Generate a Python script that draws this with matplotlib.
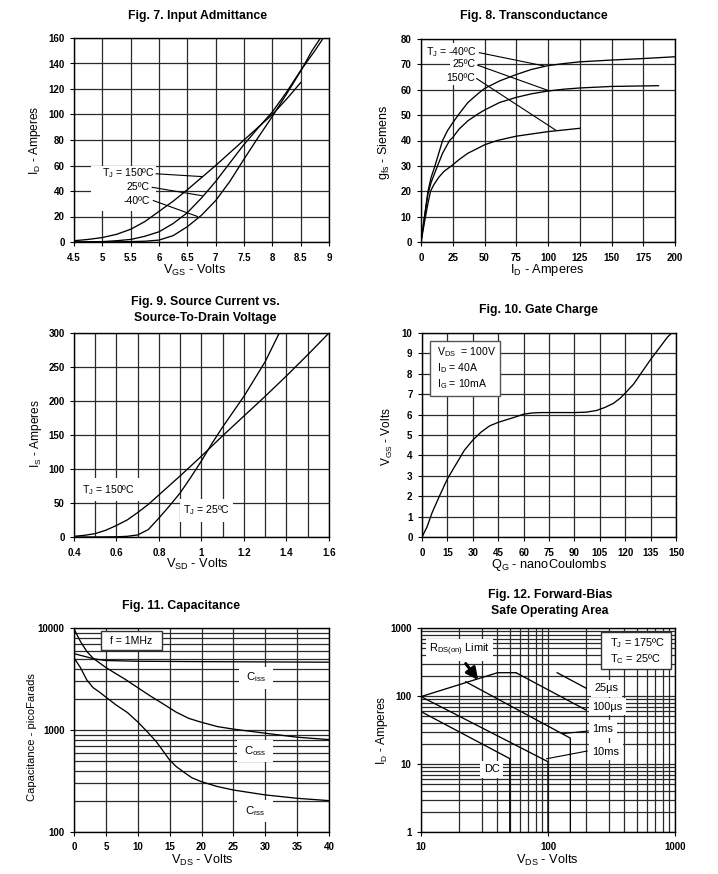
import matplotlib
matplotlib.use('Agg')
import matplotlib.pyplot as plt
from matplotlib.ticker import FixedLocator, FixedFormatter, NullFormatter
from matplotlib.patches import Rectangle

plt.rcParams['font.family'] = ['Liberation Sans', 'DejaVu Sans']
plt.rcParams['mathtext.default'] = 'regular'

# ---------------- DATA ----------------
# Fig 7 Input admittance
vgs_150 = [4.5, 4.75, 5, 5.25, 5.5, 5.75, 6, 6.25, 6.5, 6.75, 7, 7.25, 7.5, 7.75, 8, 8.25, 8.5]
id_150 = [1, 2, 3.5, 6, 10, 16, 24, 32, 41, 50.5, 60, 70, 80, 90, 100, 112, 125]
vgs_25 = [4.5, 5, 5.25, 5.5, 5.75, 6, 6.25, 6.5, 6.75, 7, 7.25, 7.5, 7.75, 8, 8.25, 8.5, 8.75, 8.9]
id_25 = [0, 0.3, 1, 2, 4.5, 8, 14.5, 23, 34.5, 47.5, 62, 76.5, 89.5, 102, 117.5, 134.5, 150, 160]
vgs_m40 = [4.5, 5, 5.5, 5.75, 6, 6.25, 6.5, 6.75, 7, 7.25, 7.5, 7.75, 8, 8.25, 8.5, 8.7, 8.85]
id_m40 = [0, 0, 0.3, 0.6, 1.5, 5, 12, 21, 32.5, 47.5, 65, 82, 98.5, 116, 134, 150, 160]

# Fig 8 Transconductance
idg_m40 = [0, 3, 5.5, 8, 11, 14, 17, 21, 25, 30, 37, 45, 50, 62, 75, 87, 100, 112, 125, 150, 175, 200]
gfs_m40 = [0, 11, 20, 25.5, 30, 35, 40, 44, 47, 50.5, 55, 58.5, 60.5, 63.5, 66, 68, 69.5, 70.3, 71, 71.7, 72.3, 73]
idg_25 = [0, 3, 5.5, 8, 13, 17, 22.5, 25, 30, 37, 45, 50, 62, 75, 87, 100, 112, 125, 150, 187]
gfs_25 = [0, 10.5, 19, 23.5, 30, 35, 40, 41.2, 44.5, 47.8, 50.5, 52, 55, 57, 58.4, 59.5, 60.2, 60.7, 61.3, 61.6]
idg_150 = [0, 3, 5, 7.5, 10, 14, 18, 24, 30, 37, 45, 50, 60, 75, 100, 125]
gfs_150 = [0, 8.5, 14, 20, 22.5, 25.5, 27.8, 30, 32.5, 35, 37, 38.3, 40, 41.7, 43.5, 44.8]

# Fig 9 Source current vs source-drain voltage
vsd_150 = [0.4, 0.45, 0.5, 0.55, 0.6, 0.65, 0.7, 0.75, 0.8, 0.9, 1.0, 1.1, 1.2, 1.3, 1.4, 1.5, 1.6]
is_150 = [1, 2.5, 5, 10, 17, 25, 36, 48, 62, 90, 119, 149, 178, 207, 237, 268, 300]
vsd_25 = [0.4, 0.5, 0.6, 0.65, 0.7, 0.75, 0.8, 0.85, 0.9, 0.95, 1.0, 1.05, 1.1, 1.2, 1.3, 1.366]
is_25 = [0, 0, 0.3, 1, 3, 11, 28, 46, 65, 88, 112, 138, 162, 207, 258, 300]

# Fig 10 Gate charge
qg = [0, 3, 6, 10, 15, 20, 25, 30, 35, 40, 45, 50, 55, 60, 65, 70, 80, 90, 97, 103, 108, 113, 117, 120, 125, 130, 135, 140, 145, 147.5]
vgs_q = [0, 0.5, 1.2, 1.95, 2.85, 3.55, 4.25, 4.75, 5.15, 5.45, 5.62, 5.75, 5.88, 6.02, 6.08, 6.1, 6.1, 6.1, 6.12, 6.2, 6.35, 6.55, 6.8, 7.05, 7.5, 8.1, 8.7, 9.25, 9.8, 10]

# Fig 11 Capacitance
vds_iss = [0, 1, 2, 3, 5, 10, 20, 30, 40]
c_iss = [5600, 5400, 5200, 5000, 4800, 4720, 4680, 4650, 4620]
vds_oss = [0, 1, 2, 3, 4, 5, 6, 8, 10, 12, 14, 16, 18, 20, 22.5, 25, 30, 35, 40]
c_oss = [9800, 7400, 5900, 5050, 4550, 4100, 3750, 3150, 2600, 2150, 1800, 1500, 1300, 1190, 1080, 1020, 930, 850, 805]
vds_rss = [0, 1, 2, 3, 4, 5, 6.6, 8.4, 10, 11.5, 12.9, 14, 15, 16, 17.35, 18.5, 20, 22.4, 25, 30, 35, 40]
c_rss = [5100, 4100, 3100, 2600, 2350, 2100, 1760, 1480, 1200, 960, 770, 620, 508, 440, 381, 340, 311, 280, 258, 231, 214, 203]

# Fig 12 Forward-bias SOA
rds_v = [10, 40, 56]
rds_i = [98, 220, 220]
us25_v = [118, 200]
us25_i = [220, 130]
us100_v = [56, 200]
us100_i = [220, 62]
ms1_v = [22.5, 150, 150]
ms1_i = [162, 24, 1]
ms10_v = [10, 100, 100]
ms10_i = [98, 10.8, 1]
dc_v = [10, 50, 50]
dc_i = [59, 12, 1]

# Tick labels
t7x = [4.5, 5, 5.5, 6, 6.5, 7, 7.5, 8, 8.5, 9]
t7y = [0, 20, 40, 60, 80, 100, 120, 140, 160]
t8x = [0, 25, 50, 75, 100, 125, 150, 175, 200]
t8y = [0, 10, 20, 30, 40, 50, 60, 70, 80]
t9x = [0.4, 0.6, 0.8, 1.0, 1.2, 1.4, 1.6]
g9x = [0.5, 0.7, 0.9, 1.1, 1.3, 1.5]
t9y = [0, 50, 100, 150, 200, 250, 300]
t10x = [0, 15, 30, 45, 60, 75, 90, 105, 120, 135, 150]
t10y = [0, 1, 2, 3, 4, 5, 6, 7, 8, 9, 10]
t11x = [0, 5, 10, 15, 20, 25, 30, 35, 40]
t11y = [100, 1000, 10000]
t12x = [10, 100, 1000]
t12y = [1, 10, 100, 1000]

# ---------------- FIGURE ----------------
W, H = 718, 874
fig = plt.figure(figsize=(W / 100, H / 100), dpi=100)
GRID = '#2a2a2a'
LW = 0.95


def add_ax(l, r, t, b):
    return fig.add_axes([l / W, 1 - b / H, (r - l) / W, (b - t) / H])


def ftext(px, py, s, **kw):
    return fig.text(px / W, 1 - py / H, s, **kw)


def frect(ax, l, r, t, b, edge='none', lw=0.0, z=4):
    ax.add_patch(Rectangle((l / W, 1 - b / H), (r - l) / W, (b - t) / H, transform=fig.transFigure,
                           facecolor='white', edgecolor=edge, lw=lw, clip_on=False, zorder=z))


def fmt(v):
    return ('%g' % v)


def setup(ax, xlim, ylim, xt, yt, xg=(), yg=(), xlog=False, ylog=False, xpad=4.6, ypad=3.8):
    if xlog:
        ax.set_xscale('log')
    if ylog:
        ax.set_yscale('log')
    ax.set_xlim(xlim)
    ax.set_ylim(ylim)
    ax.xaxis.set_major_locator(FixedLocator(xt))
    ax.yaxis.set_major_locator(FixedLocator(yt))
    ax.xaxis.set_major_formatter(FixedFormatter([fmt(v) for v in xt]))
    ax.yaxis.set_major_formatter(FixedFormatter([fmt(v) for v in yt]))
    ax.xaxis.set_minor_locator(FixedLocator(list(xg)))
    ax.yaxis.set_minor_locator(FixedLocator(list(yg)))
    ax.xaxis.set_minor_formatter(NullFormatter())
    ax.yaxis.set_minor_formatter(NullFormatter())
    ax.grid(which='both', color=GRID, lw=0.9)
    ax.set_axisbelow(True)
    ax.tick_params(which='minor', length=0)
    ax.tick_params(which='major', length=3, width=0.8, labelsize=7.0, direction='out')
    ax.tick_params(axis='x', pad=xpad)
    ax.tick_params(axis='y', pad=ypad)
    for lab in ax.get_xticklabels() + ax.get_yticklabels():
        lab.set_fontweight('bold')
    for s in ax.spines.values():
        s.set_linewidth(1.0)


TFS = 8.8
LFS = 9.2
YFS = 8.6
NFS = 7.6

# ---- Fig 7 ----
ax7 = add_ax(74, 329, 38, 242)
setup(ax7, (4.5, 9), (0, 160), t7x, t7y)
ax7.plot(vgs_150, id_150, color='k', lw=LW, zorder=3)
ax7.plot(vgs_25, id_25, color='k', lw=LW, zorder=3)
ax7.plot(vgs_m40, id_m40, color='k', lw=LW, zorder=3)
frect(ax7, 91, 156, 166, 211)
ax7.text(5.93, 54, 'T$_J$ = 150ºC', ha='right', va='center', fontsize=NFS, zorder=6)
ax7.text(5.84, 43, '25ºC', ha='right', va='center', fontsize=NFS, zorder=6)
ax7.text(5.84, 32, '-40ºC', ha='right', va='center', fontsize=NFS, zorder=6)
ax7.plot([5.95, 6.76], [53.5, 51.3], color='k', lw=0.8, zorder=6)
ax7.plot([5.88, 6.76], [42.9, 36.3], color='k', lw=0.8, zorder=6)
ax7.plot([5.9, 6.68], [32.5, 20.0], color='k', lw=0.8, zorder=6)
ftext(197, 16, 'Fig. 7. Input Admittance', ha='center', va='center', fontsize=TFS, fontweight='bold')
ftext(195, 270, 'V$_{GS}$ - Volts', ha='center', va='center', fontsize=LFS)
ftext(35, 140, 'I$_D$ - Amperes', ha='center', va='center', fontsize=YFS, rotation=90)

# ---- Fig 8 ----
ax8 = add_ax(421, 675, 39, 242)
setup(ax8, (0, 200), (0, 80), t8x, t8y)
ax8.plot(idg_m40, gfs_m40, color='k', lw=LW, zorder=3)
ax8.plot(idg_25, gfs_25, color='k', lw=LW, zorder=3)
ax8.plot(idg_150, gfs_150, color='k', lw=LW, zorder=3)
bb = dict(facecolor='white', edgecolor='none', pad=1.5)
ax8.text(44, 74.8, 'T$_J$ = -40ºC', ha='right', va='center', fontsize=NFS, zorder=6, bbox=bb)
ax8.text(43, 70, '25ºC', ha='right', va='center', fontsize=NFS, zorder=6, bbox=bb)
ax8.text(42.5, 64.5, '150ºC', ha='right', va='center', fontsize=NFS, zorder=6, bbox=bb)
ax8.plot([46, 96.8], [74.6, 69.4], color='k', lw=0.8, zorder=6)
ax8.plot([44.5, 100.8], [69.7, 59.6], color='k', lw=0.8, zorder=6)
ax8.plot([43.8, 106], [64.4, 44.1], color='k', lw=0.8, zorder=6)
ftext(534, 16, 'Fig. 8. Transconductance', ha='center', va='center', fontsize=TFS, fontweight='bold')
ftext(547, 270, 'I$_D$ - Amperes', ha='center', va='center', fontsize=LFS)
ftext(384, 142, 'g$_{fs}$ - Siemens', ha='center', va='center', fontsize=YFS + 0.4, rotation=90)

# ---- Fig 9 ----
ax9 = add_ax(74, 329, 333, 537)
setup(ax9, (0.4, 1.6), (0, 300), t9x, t9y, xg=g9x)
ax9.plot(vsd_150, is_150, color='k', lw=LW, zorder=3)
ax9.plot(vsd_25, is_25, color='k', lw=LW, zorder=3)
frect(ax9, 78, 142, 478, 501)
frect(ax9, 180, 233, 499, 522)
ax9.text(0.44, 69, 'T$_J$ = 150ºC', ha='left', va='center', fontsize=NFS, zorder=6)
ax9.text(0.915, 40, 'T$_J$ = 25ºC', ha='left', va='center', fontsize=NFS, zorder=6)
ftext(205, 302.5, 'Fig. 9. Source Current vs.', ha='center', va='center', fontsize=TFS, fontweight='bold')
ftext(205, 317.5, 'Source-To-Drain Voltage', ha='center', va='center', fontsize=TFS, fontweight='bold')
ftext(197, 564, 'V$_{SD}$ - Volts', ha='center', va='center', fontsize=LFS)
ftext(36, 434, 'I$_S$ - Amperes', ha='center', va='center', fontsize=YFS, rotation=90)

# ---- Fig 10 ----
ax10 = add_ax(422, 676, 333, 537)
setup(ax10, (0, 150), (0, 10), t10x, t10y)
ax10.plot(qg, vgs_q, color='k', lw=LW, zorder=3)
frect(ax10, 430, 500, 341, 396, edge='#555555', lw=1.0)
ftext(437, 352, 'V$_{DS}$  = 100V', ha='left', va='center', fontsize=NFS, zorder=6)
ftext(437, 368, 'I$_D$ = 40A', ha='left', va='center', fontsize=NFS, zorder=6)
ftext(437, 384, 'I$_G$ = 10mA', ha='left', va='center', fontsize=NFS, zorder=6)
ftext(538, 310.5, 'Fig. 10. Gate Charge', ha='center', va='center', fontsize=TFS, fontweight='bold')
ftext(549, 565, 'Q$_G$ - nanoCoulombs', ha='center', va='center', fontsize=LFS)
ftext(387, 437, 'V$_{GS}$ - Volts', ha='center', va='center', fontsize=YFS, rotation=90)

# ---- Fig 11 ----
ax11 = add_ax(74, 329, 628, 832)
yg11 = [m * d for d in (100, 1000) for m in range(2, 10)]
setup(ax11, (0, 40), (100, 10000), t11x, t11y, yg=yg11, ylog=True, xpad=4.0)
ax11.plot(vds_iss, c_iss, color='k', lw=LW, zorder=3)
ax11.plot(vds_oss, c_oss, color='k', lw=LW, zorder=3)
ax11.plot(vds_rss, c_rss, color='k', lw=LW, zorder=3)
frect(ax11, 101, 162, 631, 650, edge='#333333', lw=1.0)
ftext(131.5, 640.5, 'f = 1MHz', ha='center', va='center', fontsize=NFS, zorder=6)
frect(ax11, 239, 273, 667, 689)
frect(ax11, 237, 273, 740, 762)
frect(ax11, 237, 273, 800, 822)
ftext(256, 677.5, 'C$_{iss}$', ha='center', va='center', fontsize=NFS + 0.6, zorder=6)
ftext(255, 751, 'C$_{oss}$', ha='center', va='center', fontsize=NFS + 0.6, zorder=6)
ftext(255, 811, 'C$_{rss}$', ha='center', va='center', fontsize=NFS + 0.6, zorder=6)
ftext(181, 606, 'Fig. 11. Capacitance', ha='center', va='center', fontsize=TFS, fontweight='bold')
ftext(202, 860, 'V$_{DS}$ - Volts', ha='center', va='center', fontsize=LFS)
ftext(32, 737, 'Capacitance - picoFarads', ha='center', va='center', fontsize=8.0, rotation=90)

# ---- Fig 12 ----
ax12 = add_ax(421, 675, 628, 832)
xg12 = [m * d for d in (10, 100) for m in range(2, 10)]
yg12 = [m * d for d in (1, 10, 100) for m in range(2, 10)]
setup(ax12, (10, 1000), (1, 1000), t12x, t12y, xg=xg12, yg=yg12, xlog=True, ylog=True, xpad=4.4)
for xs, ys in ((rds_v, rds_i), (us25_v, us25_i), (us100_v, us100_i), (ms1_v, ms1_i), (ms10_v, ms10_i), (dc_v, dc_i)):
    ax12.plot(xs, ys, color='k', lw=LW, zorder=3)
bb2 = dict(facecolor='white', edgecolor='none', pad=2.5)
ax12.text(232, 131, '25µs', ha='left', va='center', fontsize=NFS + 0.3, zorder=6, bbox=bb2)
ax12.text(224, 69.6, '100µs', ha='left', va='center', fontsize=NFS + 0.3, zorder=6, bbox=bb2)
ax12.text(224, 32.7, '1ms', ha='left', va='center', fontsize=NFS + 0.3, zorder=6, bbox=bb2)
ax12.text(224, 15.2, '10ms', ha='left', va='center', fontsize=NFS + 0.3, zorder=6, bbox=bb2)
ax12.text(36, 8.4, 'DC', ha='center', va='center', fontsize=NFS + 0.3, zorder=6, bbox=bb2)
ax12.plot([207, 132], [30.6, 28], color='k', lw=0.8, zorder=6)
ax12.plot([203, 97.6], [15.5, 11.96], color='k', lw=0.8, zorder=6)
ax12.text(11.6, 474, 'R$_{DS(on)}$ Limit', ha='left', va='center', fontsize=NFS + 0.3, zorder=6,
          bbox=dict(facecolor='white', edgecolor='none', pad=2.0))
ax12.annotate('', xy=(28.2, 172), xytext=(22.5, 300),
              arrowprops=dict(arrowstyle='-|>,head_length=0.7,head_width=0.35', color='k', lw=2.2,
                              shrinkA=0, shrinkB=0), zorder=6)
frect(ax12, 601, 671, 632, 669, edge='#333333', lw=1.0)
ftext(610, 643.5, 'T$_J$ = 175ºC', ha='left', va='center', fontsize=NFS + 0.3, zorder=6)
ftext(610, 659, 'T$_C$ = 25ºC', ha='left', va='center', fontsize=NFS + 0.3, zorder=6)
ftext(550, 595, 'Fig. 12. Forward-Bias', ha='center', va='center', fontsize=TFS, fontweight='bold')
ftext(550, 611, 'Safe Operating Area', ha='center', va='center', fontsize=TFS, fontweight='bold')
ftext(547, 860, 'V$_{DS}$ - Volts', ha='center', va='center', fontsize=LFS)
ftext(382, 730, 'I$_D$ - Amperes', ha='center', va='center', fontsize=YFS, rotation=90)

fig.savefig('out.png', dpi=100)
